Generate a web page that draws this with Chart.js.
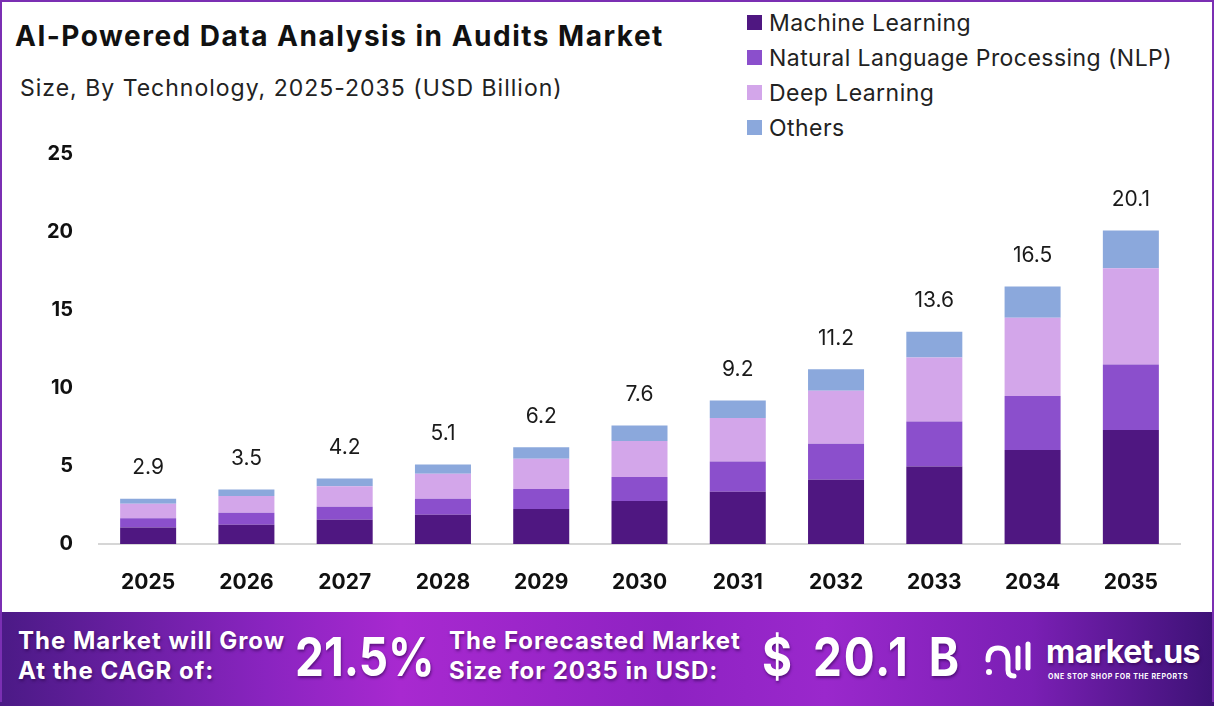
<!DOCTYPE html>
<html>
<head>
<meta charset="utf-8">
<script src="https://cdn.jsdelivr.net/npm/chart.js@4.4.1/dist/chart.umd.min.js"></script>
<style>
  html,body{margin:0;padding:0;background:#fff;}
  body{width:1214px;height:706px;position:relative;overflow:hidden;font-family:Inter,"Open Sans",sans-serif;}
  #frame{position:absolute;left:0;top:0;width:1210px;height:700px;border:2px solid #7b2fb3;border-bottom:none;pointer-events:none;z-index:5;}
  #title{position:absolute;left:15px;top:19px;font-size:28px;font-weight:700;color:#111;letter-spacing:1.5px;white-space:nowrap;}
  #subtitle{position:absolute;left:20px;top:74px;font-size:23px;font-weight:400;color:#222;letter-spacing:1px;white-space:nowrap;}
  #legend{position:absolute;left:747px;top:5px;}
  .li{height:35px;display:flex;align-items:center;font-size:23px;color:#222;letter-spacing:0.45px;white-space:nowrap;}
  .sw{width:15px;height:15px;margin-right:7px;display:inline-block;}
  #chartwrap{position:absolute;left:0;top:0;width:1214px;height:610px;}
  #footer{position:absolute;left:0;top:612px;width:1214px;height:94px;
    background:linear-gradient(90deg,#4b1a86 0%,#8a24c0 22%,#a829d0 33%,#8e22c2 55%,#9a28cc 68%,#7a1fb4 85%,#3d1276 100%);}
  .ft{position:absolute;color:#fff;font-weight:700;text-shadow:1px 2px 3px rgba(40,0,70,0.55);white-space:nowrap;}
  .small{font-size:24px;line-height:30px;top:14px;letter-spacing:1px;}
  .big{font-size:54px;top:14px;line-height:62px;transform:scaleX(0.85);transform-origin:0 0;}
</style>
</head>
<body>
<div id="frame"></div>
<div id="title">AI-Powered Data Analysis in Audits Market</div>
<div id="subtitle">Size, By Technology, 2025-2035 (USD Billion)</div>
<div id="legend"></div>
<div id="chartwrap"><canvas id="c" width="1214" height="610"></canvas></div>
<div id="footer">
  <div class="ft small" style="left:18px;">The Market will Grow<br>At the CAGR of:</div>
  <div class="ft big" style="left:295px;">21.5%</div>
  <div class="ft small" style="left:449px;">The Forecasted Market<br>Size for 2035 in USD:</div>
  <div class="ft big" style="left:762px;letter-spacing:2px;word-spacing:8px;">$ 20.1 B</div>
  <svg style="position:absolute;left:984px;top:28px;" width="56" height="40" viewBox="0 0 56 40">
    <g fill="none" stroke="#fff" stroke-width="5" stroke-linecap="round">
      <path d="M4 20 Q4 8 14 8 Q24 8 24 20 L24 30 Q24 36 30 36"/>
      <path d="M34 8 L34 28"/>
      <path d="M44 4 L44 28"/>
    </g>
    <circle cx="5" cy="32" r="3" fill="#fff"/>
  </svg>
  <div class="ft" style="left:1046px;top:20px;font-size:32px;letter-spacing:-0.5px;">market.us</div>
  <div class="ft" style="left:1048px;top:60px;font-size:7px;letter-spacing:0.6px;text-shadow:none;">ONE STOP SHOP FOR THE REPORTS</div>
</div>
<script>
const years = ["2025","2026","2027","2028","2029","2030","2031","2032","2033","2034","2035"];
const machineLearning = [1.05,1.23,1.55,1.87,2.25,2.76,3.35,4.12,4.96,6.03,7.31];
const nlp = [0.60,0.78,0.84,1.03,1.28,1.54,1.94,2.31,2.89,3.46,4.19];
const deepLearning = [0.93,1.06,1.31,1.61,1.94,2.31,2.78,3.40,4.11,5.02,6.18];
const others = [0.32,0.43,0.50,0.59,0.73,0.99,1.13,1.37,1.64,1.99,2.42];
const totals = ["2.9","3.5","4.2","5.1","6.2","7.6","9.2","11.2","13.6","16.5","20.1"];
const seriesNames = ["Machine Learning","Natural Language Processing (NLP)","Deep Learning","Others"];
const seriesColors = ["#4f1781","#8b4fcc","#d3a6ea","#8ba8dc"];
const yTicks = [0,5,10,15,20,25];

const leg = document.getElementById('legend');
seriesNames.forEach((n,i)=>{
  const d=document.createElement('div');d.className='li';
  d.innerHTML='<span class="sw" style="background:'+seriesColors[i]+'"></span>'+n;
  leg.appendChild(d);
});

const totalLabels = {
  id:'totalLabels',
  afterDatasetsDraw(chart){
    const ctx=chart.ctx;
    const meta=chart.getDatasetMeta(chart.data.datasets.length-1);
    ctx.save();
    ctx.font='400 21px Inter, "Open Sans", sans-serif';
    ctx.fillStyle='#1a1a1a';
    ctx.textAlign='center';ctx.textBaseline='middle';
    meta.data.forEach((bar,i)=>{ ctx.fillText(totals[i], bar.x, bar.y-31); });
    ctx.restore();
  }
};

new Chart(document.getElementById('c'),{
  type:'bar',
  data:{labels:years,datasets:[
    {label:seriesNames[0],data:machineLearning,backgroundColor:seriesColors[0]},
    {label:seriesNames[1],data:nlp,backgroundColor:seriesColors[1]},
    {label:seriesNames[2],data:deepLearning,backgroundColor:seriesColors[2]},
    {label:seriesNames[3],data:others,backgroundColor:seriesColors[3]}
  ]},
  options:{
    responsive:false,animation:false,
    layout:{padding:{left:0,right:34,top:154,bottom:0}},
    plugins:{legend:{display:false},tooltip:{enabled:false}},
    datasets:{bar:{categoryPercentage:1,barPercentage:0.57,borderWidth:0}},
    scales:{
      x:{stacked:true,grid:{display:false},border:{display:true,color:'#d6d6d6',width:2},
         ticks:{padding:18,color:'#111',font:{family:'Inter',size:21,weight:'bold'}},
         afterFit(s){s.height=66;}},
      y:{stacked:true,min:0,max:25,grid:{display:false},border:{display:false},
         afterBuildTicks(s){s.ticks=yTicks.map(v=>({value:v}));},
         ticks:{padding:18,color:'#111',font:{family:'Inter',size:20,weight:'bold'}},
         afterFit(s){s.width=99;}}
    }
  },
  plugins:[totalLabels]
});
</script>
</body>
</html>
